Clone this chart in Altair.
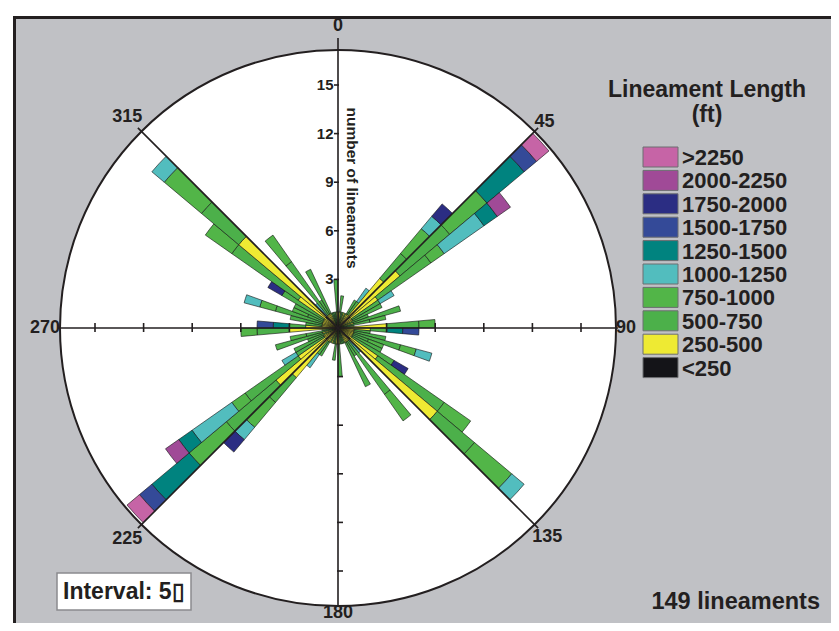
import math
import altair as alt
import pandas as pd

# ---------------------------------------------------------------- data ----
# 5-degree bins from 0 to 180 (the rose is bidirectional: each bin is
# repeated at +180 degrees)
BIN_START = list(range(0, 180, 5))

CLASSES = ["<250", "250-500", "500-750", "750-1000", "1000-1250",
           "1250-1500", "1500-1750", "1750-2000", "2000-2250", ">2250"]
COLORS = ["#141418", "#EEEA33", "#4CB04A", "#52B548", "#52BDBE",
          "#00837F", "#344A98", "#2B2D83", "#A04A97", "#C664A6"]

#            0-5 ...                                             ... 175-180
N_LT250   = [0,0,0,0,0,0,0,0,0,1, 0,0,0,0,0,0,0,0, 0,0,0,0,0,0,0,0,1,0,0,0,0,0,0,0,0,0]
N_250_500 = [0,1,0,0,1,0,1,1,4,4, 3,1,1,0,1,0,0,3, 2,1,1,1,1,1,1,3,7,1,1,1,1,0,0,0,0,1]
N_500_750 = [1,1,1,1,0,1,1,1,2,4, 4,2,2,2,3,2,1,2, 1,1,2,3,1,2,3,5,3,0,4,1,3,1,1,1,1,2]
N_750_1000= [0,0,0,0,0,0,0,0,2,3, 1,0,0,0,0,1,0,1, 0,0,0,1,1,0,0,2,3,0,2,0,0,0,0,0,0,0]
N_1000_1250=[0,0,0,0,0,0,0,1,1,0, 3,1,0,0,0,0,0,0, 0,0,0,1,0,0,0,0,1,1,0,0,0,0,0,0,0,0]
N_1250_1500=[0,0,0,0,0,0,0,0,0,3, 1,0,0,0,0,0,0,0, 1,0,0,0,0,0,0,0,0,0,0,0,0,0,0,0,0,0]
N_1500_1750=[0,0,0,0,0,0,0,0,0,1, 0,0,0,0,0,0,0,0, 1,0,0,0,0,0,0,0,0,0,0,0,0,0,0,0,0,0]
N_1750_2000=[0,0,0,0,0,0,0,0,1,0, 0,0,0,0,0,0,0,0, 0,0,0,0,0,0,1,0,0,0,0,0,0,0,0,0,0,0]
N_2000_2250=[0,0,0,0,0,0,0,0,0,0, 1,0,0,0,0,0,0,0, 0,0,0,0,0,0,0,0,0,0,0,0,0,0,0,0,0,0]
N_GT2250  = [0,0,0,0,0,0,0,0,0,1, 0,0,0,0,0,0,0,0, 0,0,0,0,0,0,0,0,0,0,0,0,0,0,0,0,0,0]

COUNTS = [N_LT250, N_250_500, N_500_750, N_750_1000, N_1000_1250,
          N_1250_1500, N_1500_1750, N_1750_2000, N_2000_2250, N_GT2250]

DIR_LABELS = ["0", "45", "90", "135", "180", "225", "270", "315"]
RADIAL_TICKS = [3, 6, 9, 12, 15]
LEGEND_TITLE = ["Lineament Length", "(ft)"]
TOTAL_TEXT = "149 lineaments"
INTERVAL_TEXT = "Interval: 5\u25AF"
AXIS_TITLE = "number of lineaments"

# ------------------------------------------------------------ geometry ----
W, H = 823, 615
CX, CY = 330, 320          # centre of the rose in chart pixels
R_PX = 278                 # radius of the outer circle
PX_PER_UNIT = 16.2
R_MAX = R_PX / PX_PER_UNIT
FONT = "Liberation Sans"
INK = "#231F20"

rows = []
for i, a in enumerate(BIN_START):
    cum = 0
    for k, cls in enumerate(CLASSES):
        n = COUNTS[k][i]
        if n:
            for off in (0, 180):
                rows.append(dict(a0=a + off, a1=a + off + 5, r0=cum,
                                 r1=cum + n, cls=cls))
            cum += n
bars = pd.DataFrame(rows)

color_scale = alt.Scale(domain=CLASSES, range=COLORS)
theta_scale = alt.Scale(domain=[0, 360], range=[0, 2 * math.pi])
radius_scale = alt.Scale(type="linear", domain=[0, R_MAX], range=[0, R_PX],
                         zero=True, nice=False)

one = pd.DataFrame({"k": [0]})

background = alt.Chart(one).mark_rect(
    fill="#C0C1C5", stroke=INK, strokeWidth=3
).encode(x=alt.value(6.5), x2=alt.value(W + 20),
         y=alt.value(9.5), y2=alt.value(H + 20))

circle = alt.Chart(one).mark_arc(
    fill="white", stroke=INK, strokeWidth=2,
    theta=0, theta2=2 * math.pi, radius=R_PX
).encode(x=alt.value(CX), y=alt.value(CY))

rose = alt.Chart(bars).mark_arc(stroke="#111111", strokeWidth=0.6).encode(
    theta=alt.Theta("a0:Q", scale=theta_scale, stack=None),
    theta2="a1:Q",
    radius=alt.Radius("r1:Q", scale=radius_scale, stack=None),
    radius2="r0:Q",
    color=alt.Color("cls:N", scale=color_scale, legend=None),
    x=alt.value(CX), y=alt.value(CY),
)

# axis / direction lines
segs = []
segs.append((CX, CY - R_PX - 12, CX, CY + R_PX))
segs.append((CX - R_PX - 2, CY, CX + R_PX + 2, CY))
for ang in (45, 135):
    t = math.radians(ang)
    rr = R_PX + 5
    segs.append((CX + rr * math.sin(t), CY - rr * math.cos(t),
                 CX - rr * math.sin(t), CY + rr * math.cos(t)))
for v in RADIAL_TICKS:
    d = v * PX_PER_UNIT
    segs.append((CX - 4, CY - d, CX + 1, CY - d))
    segs.append((CX - 1, CY + d, CX + 5, CY + d))
    segs.append((CX + d, CY - 5, CX + d, CY + 4))
    segs.append((CX - d, CY - 5, CX - d, CY + 4))
lines = pd.DataFrame(segs, columns=["x", "y", "x2", "y2"])
rules = alt.Chart(lines).mark_rule(color=INK, strokeWidth=1.6).encode(
    x=alt.X("x:Q", scale=None), y=alt.Y("y:Q", scale=None),
    x2="x2:Q", y2="y2:Q")

# direction labels
lab_off = [24, 14, 10, 18, 7, 20, 15, 20]
dl = []
for k, txt in enumerate(DIR_LABELS):
    t = math.radians(45 * k)
    rr = R_PX + lab_off[k]
    dl.append(dict(x=CX + rr * math.sin(t), y=CY - rr * math.cos(t), text=txt))
dir_df = pd.DataFrame(dl)
dir_text = alt.Chart(dir_df).mark_text(
    font=FONT, fontWeight="bold", fontSize=18, color=INK,
    baseline="middle", align="center"
).encode(x=alt.X("x:Q", scale=None), y=alt.Y("y:Q", scale=None), text="text:N")

tick_df = pd.DataFrame({"x": [CX - 4.5] * len(RADIAL_TICKS),
                        "y": [CY - v * PX_PER_UNIT for v in RADIAL_TICKS],
                        "text": [str(v) for v in RADIAL_TICKS]})
tick_text = alt.Chart(tick_df).mark_text(
    font=FONT, fontWeight="bold", fontSize=15, color=INK,
    baseline="middle", align="right"
).encode(x=alt.X("x:Q", scale=None), y=alt.Y("y:Q", scale=None), text="text:N")

axis_title = alt.Chart(pd.DataFrame({"x": [CX + 14], "y": [CY - 140],
                                     "text": [AXIS_TITLE]})).mark_text(
    font=FONT, fontWeight="bold", fontSize=15.5, color=INK,
    angle=90, baseline="middle", align="center"
).encode(x=alt.X("x:Q", scale=None), y=alt.Y("y:Q", scale=None), text="text:N")

# legend (largest class first)
LX, LY, LSTEP = 635, 139, 23.4
leg_rows = []
for j, cls in enumerate(reversed(CLASSES)):
    leg_rows.append(dict(x=LX, x2=LX + 35, y=LY + j * LSTEP,
                         y2=LY + j * LSTEP + 20, cls=cls,
                         tx=LX + 39, ty=LY + j * LSTEP + 11))
leg = pd.DataFrame(leg_rows)
leg_rect = alt.Chart(leg).mark_rect(stroke="#6D6E71", strokeWidth=1).encode(
    x=alt.X("x:Q", scale=None), x2="x2:Q",
    y=alt.Y("y:Q", scale=None), y2="y2:Q",
    color=alt.Color("cls:N", scale=color_scale, legend=None))
leg_text = alt.Chart(leg).mark_text(
    font=FONT, fontWeight="bold", fontSize=22, color=INK,
    baseline="middle", align="left"
).encode(x=alt.X("tx:Q", scale=None), y=alt.Y("ty:Q", scale=None), text="cls:N")

leg_title = alt.Chart(pd.DataFrame({"x": [699, 699], "y": [82, 107],
                                   "text": LEGEND_TITLE})).mark_text(
    font=FONT, fontWeight="bold", fontSize=23, color=INK,
    baseline="middle", align="center"
).encode(x=alt.X("x:Q", scale=None), y=alt.Y("y:Q", scale=None), text="text:N")

interval_box = alt.Chart(one).mark_rect(
    fill="white", stroke="#8A8B8E", strokeWidth=1.5
).encode(x=alt.value(49), x2=alt.value(183), y=alt.value(565), y2=alt.value(602))
interval_text = alt.Chart(pd.DataFrame({"x": [55], "y": [584],
                                        "text": [INTERVAL_TEXT]})).mark_text(
    font=FONT, fontWeight="bold", fontSize=23, color=INK,
    baseline="middle", align="left"
).encode(x=alt.X("x:Q", scale=None), y=alt.Y("y:Q", scale=None), text="text:N")

total_text = alt.Chart(pd.DataFrame({"x": [812], "y": [594],
                                     "text": [TOTAL_TEXT]})).mark_text(
    font=FONT, fontWeight="bold", fontSize=23.5, color=INK,
    baseline="middle", align="right"
).encode(x=alt.X("x:Q", scale=None), y=alt.Y("y:Q", scale=None), text="text:N")

chart = alt.layer(
    background, circle, rose, rules, dir_text, tick_text, axis_title,
    leg_rect, leg_text, leg_title, interval_box, interval_text, total_text
).properties(
    width=W, height=H, autosize="none", padding=0, background="white"
).configure_view(strokeWidth=0)

chart.save("out.html", embed_options={"renderer": "svg", "actions": False})
